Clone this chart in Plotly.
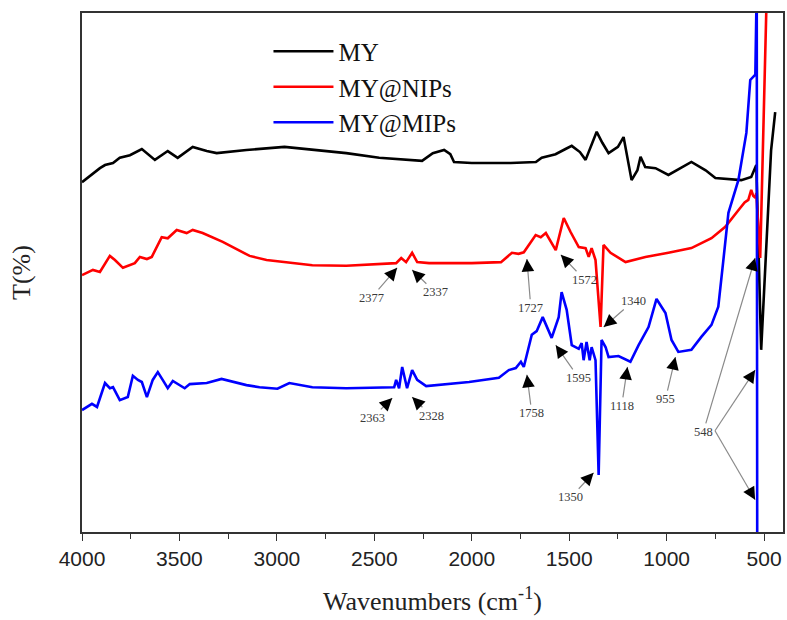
import plotly.graph_objects as go
import math

# ---------------- data ----------------
WN_MY = [4000, 3974, 3908, 3882, 3841, 3806, 3754, 3693, 3626, 3560, 3509, 3432, 3360, 3309,
         3156, 2961, 2818, 2644, 2475, 2337, 2255, 2200, 2142, 2110, 2091, 2000, 1800, 1671,
         1641, 1590, 1570, 1519, 1487, 1445, 1416, 1359, 1330, 1298, 1250, 1221, 1180, 1150,
         1134, 1110, 1057, 991, 930, 873, 800, 750, 617, 566, 540, 515, 464, 443]
T_MY = [67.4, 68.2, 70.1, 70.7, 71.1, 72.1, 72.6, 73.8, 71.7, 73.4, 72.1, 74.2, 73.4, 73.0,
        73.6, 74.2, 73.6, 73.0, 72.1, 71.7, 71.5, 73.0, 73.6, 72.8, 71.3, 71.1, 71.1, 71.3,
        72.1, 72.6, 72.8, 73.8, 74.4, 73.2, 71.7, 77.1, 75.0, 73.0, 74.2, 76.1, 67.8, 69.7,
        72.3, 70.3, 70.1, 68.8, 70.1, 71.3, 69.7, 68.2, 67.8, 68.4, 70.7, 35.1, 73.6, 80.9]

WN_NIP = [4000, 3944, 3908, 3857, 3831, 3790, 3729, 3703, 3667, 3642, 3591, 3560, 3514, 3463,
          3432, 3381, 3278, 3140, 3053, 2920, 2818, 2644, 2388, 2362, 2337, 2306, 2280, 2219,
          2000, 1850, 1794, 1760, 1733, 1672, 1646, 1620, 1569, 1528, 1493, 1451, 1416, 1400,
          1385, 1365, 1339, 1324, 1288, 1211, 1109, 991, 873, 770, 699, 632, 600, 581, 566,
          556, 545, 540, 520, 489, 476]
T_NIP = [49.5, 50.5, 50.1, 53.2, 52.4, 50.9, 51.8, 53.0, 52.6, 53.0, 56.8, 56.6, 58.2, 57.6,
         58.2, 57.6, 55.9, 53.2, 52.4, 51.8, 51.4, 51.3, 51.8, 52.8, 52.0, 53.8, 52.0, 51.8,
         51.8, 52.0, 53.8, 53.6, 53.9, 57.2, 56.8, 57.6, 54.3, 60.5, 57.8, 54.9, 54.7, 53.0,
         54.7, 52.4, 39.5, 55.3, 53.8, 52.0, 53.0, 53.8, 54.7, 56.6, 58.8, 62.0, 63.5, 64.0,
         65.9, 64.8, 64.4, 65.3, 52.8, 100.0, 120.0]

WN_MIP = [4000, 3949, 3923, 3882, 3857, 3841, 3806, 3765, 3739, 3713, 3693, 3667, 3637, 3611,
          3586, 3560, 3534, 3498, 3473, 3447, 3360, 3284, 3156, 3089, 2997, 2936, 2818, 2644,
          2398, 2388, 2373, 2357, 2332, 2306, 2280, 2234, 2014, 1861, 1810, 1774, 1748, 1733,
          1692, 1667, 1636, 1590, 1554, 1539, 1513, 1487, 1451, 1436, 1426, 1411, 1395, 1385,
          1365, 1349, 1334, 1313, 1298, 1247, 1186, 1144, 1093, 1052, 1006, 975, 940, 873,
          822, 770, 735, 709, 683, 632, 591, 571, 545, 540, 538, 535]
T_MIP = [23.5, 24.7, 24.1, 28.7, 27.7, 27.9, 25.4, 26.0, 30.1, 29.3, 28.9, 26.0, 29.3, 30.8,
         29.3, 27.7, 29.1, 28.3, 27.7, 28.5, 28.7, 29.5, 28.3, 27.9, 27.6, 28.7, 27.9, 27.7,
         27.9, 29.3, 27.7, 31.8, 27.7, 31.2, 29.3, 28.1, 28.9, 29.7, 31.2, 31.6, 32.8, 31.8,
         38.0, 38.7, 41.4, 37.4, 41.4, 46.2, 42.8, 36.0, 35.3, 36.4, 33.1, 36.6, 33.1, 35.6,
         33.1, 11.0, 37.0, 35.6, 33.7, 33.9, 32.8, 36.0, 39.5, 44.9, 42.2, 37.0, 34.7, 35.1,
         37.6, 39.9, 43.4, 52.4, 61.5, 67.8, 76.9, 87.1, 88.1, 100.0, 118.0, -17.0]

SERIES_NAMES = ["MY", "MY@NIPs", "MY@MIPs"]
SERIES_COLORS = ["#000000", "#ff0000", "#0000ff"]

# peak labels: label, text position (wavenumber, T), arrow head positions
PEAK_LABELS = ["2377", "2337", "1727", "1572", "1340", "2363", "2328", "1758", "1595",
               "1118", "955", "1350", "548"]
LABEL_WN = [2516, 2188, 1697, 1421, 1170, 2511, 2209, 1692, 1451, 1231, 1006, 1492, 812]
LABEL_T = [45.1, 46.2, 43.2, 48.6, 44.5, 22.0, 22.4, 22.9, 29.7, 24.3, 25.6, 6.7, 19.3]
HEAD_WN = [[2383], [2306], [1717], [1543], [1323], [2408], [2306], [1717], [1569],
           [1201], [955], [1375], [546, 546, 546]]
HEAD_T = [[50.9], [50.5], [52.6], [53.4], [39.5], [25.8], [26.0], [30.3], [36.0],
          [31.8], [33.7], [11.4], [52.8, 31.2, 6.2]]
# start of the extra leaders of a shared label (right edge of the label)
EXTRA_TAIL_WN = 752
EXTRA_TAIL_T = 19.5

X_TICKS = [4000, 3500, 3000, 2500, 2000, 1500, 1000, 500]

# ---------------- layout constants ----------------
W, H = 787, 620
ML, MR, MT, MB = 82, 2, 13, 88
X_RANGE = [4000, 403]
Y_RANGE = [0, 100]
px_per_x = (W - ML - MR) / (X_RANGE[0] - X_RANGE[1])   # pixels per cm-1 (leftward)
px_per_y = (H - MT - MB) / (Y_RANGE[1] - Y_RANGE[0])

SERIF = "Liberation Serif, Times New Roman, serif"
SANS = "Liberation Sans, Arial, sans-serif"
LEADER = "#8a8a8a"

fig = go.Figure()
for wn, t, name, col in zip([WN_MY, WN_NIP, WN_MIP], [T_MY, T_NIP, T_MIP],
                            SERIES_NAMES, SERIES_COLORS):
    fig.add_trace(go.Scatter(x=wn, y=t, mode="lines", name=name,
                             line=dict(color=col, width=2.6), hoverinfo="skip"))

annotations = []
shapes = []
for lab, lx, ly, hxs, hys in zip(PEAK_LABELS, LABEL_WN, LABEL_T, HEAD_WN, HEAD_T):
    for i, (hx, hy) in enumerate(zip(hxs, hys)):
        if i == 0:
            # label with gray leader line to the head
            annotations.append(dict(
                x=hx, y=hy, xref="x", yref="y", ax=lx, ay=ly, axref="x", ayref="y",
                text=lab, showarrow=True, arrowhead=0, arrowwidth=1.2,
                arrowcolor=LEADER, standoff=0,
                font=dict(family=SERIF, size=12.5, color="#3a3a3a")))
            tx, ty = lx, ly
        else:
            shapes.append(dict(type="line", xref="x", yref="y",
                               x0=EXTRA_TAIL_WN, y0=EXTRA_TAIL_T, x1=hx, y1=hy,
                               line=dict(color=LEADER, width=1.2)))
            tx, ty = EXTRA_TAIL_WN, EXTRA_TAIL_T
        # black arrow head
        dxp = -(tx - hx) * px_per_x
        dyp = -(ty - hy) * px_per_y
        n = math.hypot(dxp, dyp)
        annotations.append(dict(
            x=hx, y=hy, xref="x", yref="y", ax=dxp / n * 9, ay=dyp / n * 9,
            text="", showarrow=True, arrowhead=2, arrowwidth=1.4, arrowsize=1.8,
            arrowcolor="#000000", standoff=0))

fig.update_layout(
    width=W, height=H,
    margin=dict(l=ML, r=MR, t=MT, b=MB),
    paper_bgcolor="white", plot_bgcolor="white",
    showlegend=True,
    legend=dict(x=0.266, y=0.970, xanchor="left", yanchor="top",
                font=dict(family=SERIF, size=25, color="#111"),
                bgcolor="rgba(0,0,0,0)", itemwidth=60, tracegroupgap=0),
    annotations=annotations,
    shapes=shapes,
    xaxis=dict(range=X_RANGE, tickvals=X_TICKS, ticks="outside", ticklen=7, tickwidth=1.3,
               tickcolor="#333", showgrid=False, zeroline=False,
               showline=True, mirror=True, linecolor="#333", linewidth=1.6,
               tickfont=dict(family=SANS, size=21, color="#222"),
               minor=dict(dtick=250, tick0=0, ticks="outside", ticklen=5, tickwidth=1.2,
                          tickcolor="#333", showgrid=False),
               title=dict(text="Wavenumbers (cm<sup>-1</sup>)",
                          font=dict(family=SERIF, size=26, color="#222"), standoff=23)),
    yaxis=dict(range=Y_RANGE, showticklabels=False, ticks="", showgrid=False,
               zeroline=False, showline=True, mirror=True, linecolor="#333", linewidth=1.6,
               title=dict(text="T(%)", font=dict(family=SERIF, size=26, color="#222"),
                          standoff=42)),
)

fig.write_html("out.html")
